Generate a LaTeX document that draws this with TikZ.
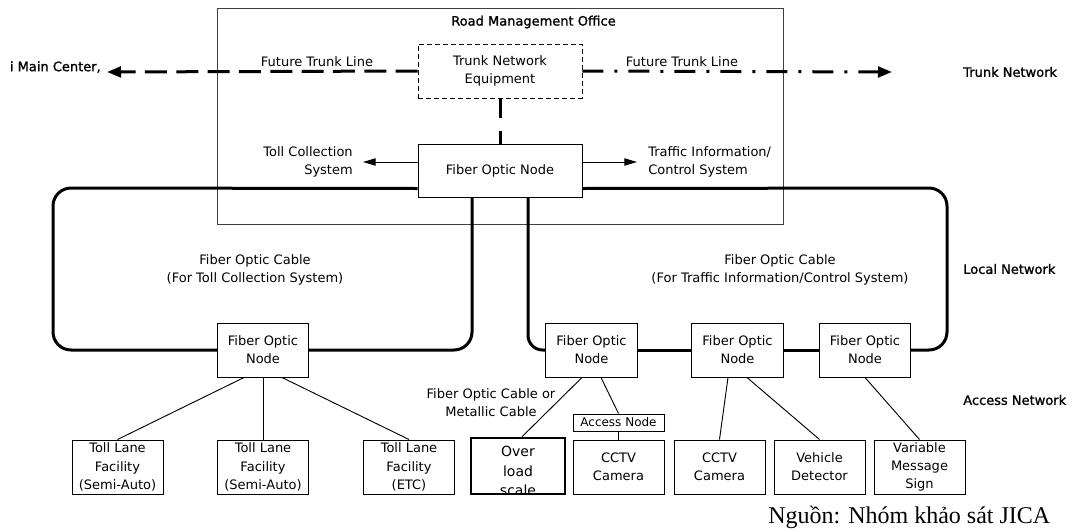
\documentclass[tikz,border=0pt]{standalone}
\usepackage{fontspec}
\setmainfont{DejaVu Sans}
\newfontfamily\hdrfont{DejaVu Sans}[FakeBold=1.2]
\newfontfamily\srcfont{Liberation Serif}
\usetikzlibrary{arrows.meta,calc}

\begin{document}
\begin{tikzpicture}[x=0.75pt,y=-0.75pt,
  every node/.style={font=\fontsize{9.75}{13.6}\selectfont, inner sep=0pt, align=center},
  office/.style={draw=black!75, line width=0.6pt, minimum width=424.5pt, minimum height=162pt},
  trunkbox/.style={draw, line width=0.6pt, dash pattern=on 3.5pt off 2.5pt, minimum width=123pt, minimum height=40.5pt},
  corebox/.style={draw, line width=0.75pt, minimum width=123pt, minimum height=39.75pt},
  nodebox/.style={draw, line width=0.75pt, minimum width=68.5pt, minimum height=40.5pt},
  devbox/.style={draw, line width=0.75pt, minimum width=68.25pt, minimum height=40.5pt},
  scalebox/.style={draw, line width=1.9pt, minimum width=70.5pt, minimum height=42pt},
  accbox/.style={draw, line width=0.75pt, minimum width=68.25pt, minimum height=12.75pt, font=\fontsize{9}{11}\selectfont},
  hdr/.style={font=\hdrfont\fontsize{9.75}{13.6}\selectfont},
  cable/.style={line width=2.25pt, rounded corners=13.5pt},
  trunk/.style={line width=2.25pt, line cap=butt},
  bigtip/.style={-{Triangle[length=10.5pt,width=8pt]}},
  smalltip/.style={-{Triangle[length=9.5pt,width=5.5pt]}},
  link/.style={line width=0.7pt}
]
\useasboundingbox (0,0) rectangle (1083,529);

% road management office
\node[office] (office) at (500,116) {};
\node[hdr] (officetitle) at (533.5,22) {Road Management Office};

% trunk network equipment and central fiber optic node
\node[trunkbox] (tne) at (500,71) {Trunk Network\\Equipment};
\node[corebox] (fon) at (500,170.5) {Fiber Optic Node};

% trunk labels
\node[hdr, anchor=east] (mc) at (101,67) {i Main Center,};
\node[hdr, anchor=west] (trunknet) at (963,72) {Trunk Network};
\node[hdr, anchor=west] (localnet) at (963,269) {Local Network};
\node[hdr, anchor=west] (accessnet) at (963,400) {Access Network};
\node (ftl1) at (317,62) {Future Trunk Line};
\node (ftl2) at (682,62) {Future Trunk Line};
\coordinate (wtip) at (107,72);
\coordinate (etip) at (892,72);

% future trunk lines
\draw[trunk, bigtip, dash pattern=on 16.5pt off 7pt] (tne.west) -- (wtip);
\draw[trunk, bigtip, dash pattern=on 15.75pt off 8.25pt on 2.25pt off 8.25pt] (tne.east) -- (etip);
\draw[trunk, dash pattern=on 15pt off 9.75pt] (tne.south) -- (fon.north);

% system outputs of the central node
\node[anchor=east, align=right] (tcs) at (353,162) {Toll Collection\\System};
\node[anchor=west, align=left] (tis) at (648,162) {Traffic Information/\\Control System};
\draw[link, smalltip] ($(fon.west)+(0,-8.5)$) -- ($(tcs.east)+(10,0)$);
\draw[link, smalltip] ($(fon.east)+(0,-8.5)$) -- ($(tis.west)+(-11,0)$);

% local network nodes
\node[nodebox] (lfn) at (263,350) {Fiber Optic\\Node};
\node[nodebox] (na) at (591.5,350) {Fiber Optic\\Node};
\node[nodebox] (nb) at (737.5,350) {Fiber Optic\\Node};
\node[nodebox] (nc) at (865,350) {Fiber Optic\\Node};

\node (tollcable) at (255,270) {Fiber Optic Cable\\(For Toll Collection System)};
\node (trafcable) at (780,270) {Fiber Optic Cable\\(For Traffic Information/Control System)};

% fiber optic cable loops
\coordinate (lc) at (53,188);
\coordinate (rc) at (947,188);
\draw[cable] ($(fon.south west)+(0,-9)$) -- (lc) |- (lfn.west);
\draw[cable] (lfn.east) -| ($(fon.south)+(-28,0)$);
\draw[cable, rounded corners=11pt] ($(fon.south)+(28,0)$) |- (na.west);
\draw[cable] (na.east) -- (nb.west);
\draw[cable] (nb.east) -- (nc.west);
\draw[cable] (nc.east) -| (rc) -- ($(fon.south east)+(0,-9)$);

% access network devices
\node[devbox] (toll1) at (117.5,467) {Toll Lane\\Facility\\(Semi-Auto)};
\node[devbox] (toll2) at (263,467) {Toll Lane\\Facility\\(Semi-Auto)};
\node[devbox] (toll3) at (409,467) {Toll Lane\\Facility\\(ETC)};
\node[scalebox] (ovl) at (518,466) {};
\begin{scope}
  \clip (472.5,439.5) rectangle (563.5,492.5);
  \node[font=\fontsize{10.5}{14.5}\selectfont] (ovltxt) at (518,471) {Over\\load\\scale};
\end{scope}
\node[accbox] (acc) at (618.5,422.5) {Access Node};
\node[devbox] (cctv1) at (618.5,467) {CCTV\\Camera};
\node[devbox] (cctv2) at (719.5,467) {CCTV\\Camera};
\node[devbox] (vd) at (819.5,467) {Vehicle\\Detector};
\node[devbox] (vms) at (919.5,467) {Variable\\Message\\Sign};

\node (metal) at (491,403) {Fiber Optic Cable or\\Metallic Cable};

% access links
\draw[link] ($(lfn.south)+(-19,0)$) -- (toll1.north);
\draw[link] (lfn.south) -- (toll2.north);
\draw[link] ($(lfn.south)+(19,0)$) -- (toll3.north);
\draw[link] ($(na.south)+(-9.5,0)$) -- ($(ovl.north)+(4,0)$);
\draw[link] ($(na.south)+(9.5,0)$) -- (acc.north);
\draw[link] (acc.south) -- (cctv1.north);
\draw[link] ($(nb.south)+(-9.5,0)$) -- (cctv2.north);
\draw[link] ($(nb.south)+(9.5,0)$) -- (vd.north);
\draw[link] (nc.south) -- (vms.north);

% source line
\node[anchor=base west, font=\srcfont\fontsize{18}{20}\selectfont] (src) at (768,523) {Nguồn: Nhóm khảo sát JICA};
\end{tikzpicture}
\end{document}
